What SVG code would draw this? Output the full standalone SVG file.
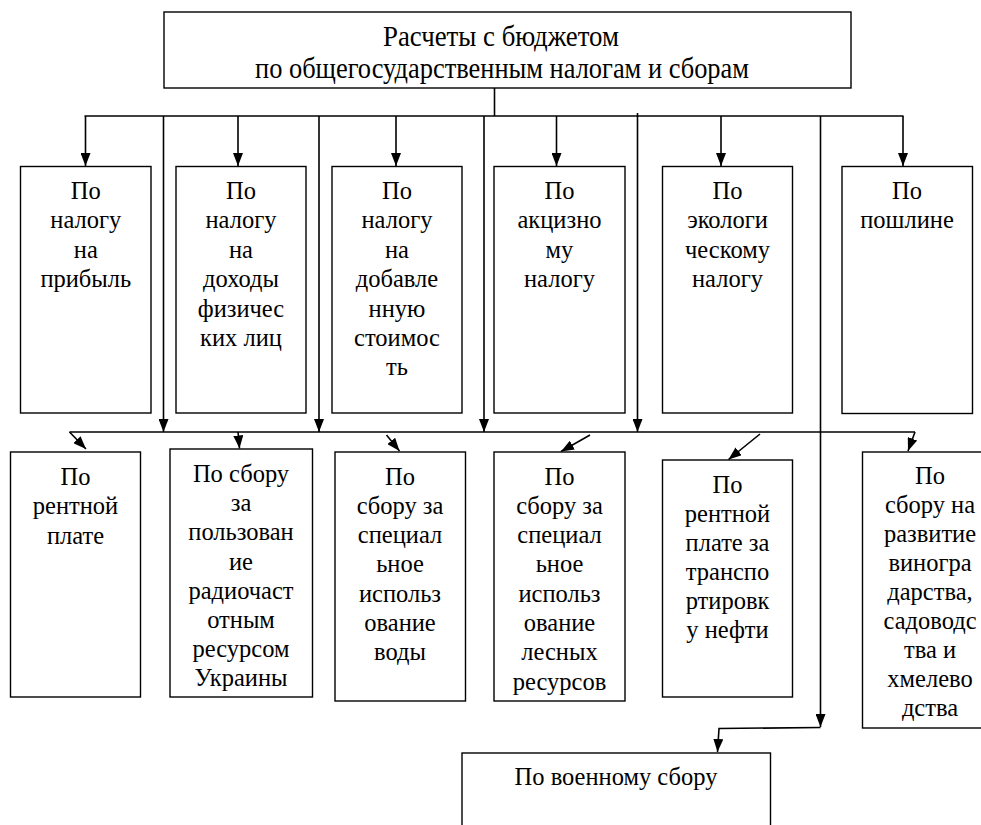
<svg xmlns="http://www.w3.org/2000/svg" width="981" height="825" viewBox="0 0 981 825">
<style>
.box{fill:#fff;stroke:#000;stroke-width:1.4}
.t{font-family:"Liberation Serif","Times New Roman","DejaVu Serif",serif;font-size:24.5px;text-anchor:middle;fill:#000}
.h{font-family:"Liberation Serif","Times New Roman","DejaVu Serif",serif;font-size:29px;text-anchor:middle;fill:#000}
.c{stroke:#000;stroke-width:1.6;fill:none}
.a{marker-end:url(#ah)}
</style>
<defs>
<marker id="ah" markerUnits="userSpaceOnUse" markerWidth="13" markerHeight="10" refX="13" refY="5" orient="auto">
<path d="M0,0 L13,5 L0,10 z" fill="#000"/>
</marker>
</defs>
<rect width="981" height="825" fill="#fff"/>
<g id="connectors">
<path class="c" d="M494.5,88 V116"/>
<path class="c" d="M84.5,116 H903.5"/>
<path class="c" d="M637.5,113 V116"/>
<path class="c a" d="M85.5,116 V166"/>
<path class="c a" d="M238,116 V166"/>
<path class="c a" d="M396,116 V166"/>
<path class="c a" d="M556.5,116 V166"/>
<path class="c a" d="M721,116 V166"/>
<path class="c a" d="M903,116 V166"/>
<path class="c a" d="M163.5,116 V432"/>
<path class="c a" d="M319,116 V432"/>
<path class="c a" d="M484,116 V432"/>
<path class="c a" d="M637.5,116 V432"/>
<path class="c a" d="M820.5,116 V727"/>
<path class="c a" d="M820.5,727.5 L719,728.5 L717.5,752"/>
<path class="c" d="M69.5,432 H915"/>
<path class="c a" d="M69.5,432 L86,449"/>
<path class="c a" d="M238,432 L239.5,448.5"/>
<path class="c a" d="M386.5,435 L399.5,451"/>
<path class="c a" d="M590,435 L561,451.5"/>
<path class="c a" d="M760,434 L728.5,459.5"/>
<path class="c a" d="M915,432 L908,451"/>
</g>
<g id="root">
<rect class="box" x="164" y="12" width="687" height="76"/>
<text class="h" x="501" y="46" textLength="236" lengthAdjust="spacingAndGlyphs">Расчеты с бюджетом</text>
<text class="h" x="502" y="78" textLength="494" lengthAdjust="spacingAndGlyphs">по общегосударственным налогам и сборам</text>
</g>
<g id="n-profit">
<rect class="box" x="20.5" y="166.5" width="130.5" height="246.5"/>
<text class="t" y="199"><tspan x="85.8">По</tspan><tspan x="85.8" dy="29.4">налогу</tspan><tspan x="85.8" dy="29.4">на</tspan><tspan x="85.8" dy="29.4">прибыль</tspan></text>
</g>
<g id="n-income">
<rect class="box" x="176" y="166.5" width="130" height="246.5"/>
<text class="t" y="199"><tspan x="241">По</tspan><tspan x="241" dy="29.4">налогу</tspan><tspan x="241" dy="29.4">на</tspan><tspan x="241" dy="29.4">доходы</tspan><tspan x="241" dy="29.4">физичес</tspan><tspan x="241" dy="29.4">ких лиц</tspan></text>
</g>
<g id="n-vat">
<rect class="box" x="332" y="166.5" width="130" height="246.5"/>
<text class="t" y="199"><tspan x="397">По</tspan><tspan x="397" dy="29.4">налогу</tspan><tspan x="397" dy="29.4">на</tspan><tspan x="397" dy="29.4">добавле</tspan><tspan x="397" dy="29.4">нную</tspan><tspan x="397" dy="29.4">стоимос</tspan><tspan x="397" dy="29.4">ть</tspan></text>
</g>
<g id="n-excise">
<rect class="box" x="494" y="166.5" width="131" height="246.5"/>
<text class="t" y="199"><tspan x="559.5">По</tspan><tspan x="559.5" dy="29.4">акцизно</tspan><tspan x="559.5" dy="29.4">му</tspan><tspan x="559.5" dy="29.4">налогу</tspan></text>
</g>
<g id="n-eco">
<rect class="box" x="662.5" y="166.5" width="130" height="246.5"/>
<text class="t" y="199"><tspan x="727.5">По</tspan><tspan x="727.5" dy="29.4">экологи</tspan><tspan x="727.5" dy="29.4">ческому</tspan><tspan x="727.5" dy="29.4">налогу</tspan></text>
</g>
<g id="n-duty">
<rect class="box" x="842" y="166.5" width="130.5" height="247"/>
<text class="t" y="199"><tspan x="907">По</tspan><tspan x="907" dy="29.4">пошлине</tspan></text>
</g>
<g id="n-rent">
<rect class="box" x="10.5" y="452" width="130" height="245"/>
<text class="t" y="485"><tspan x="75.5">По</tspan><tspan x="75.5" dy="29.3">рентной</tspan><tspan x="75.5" dy="29.3">плате</tspan></text>
</g>
<g id="n-radio">
<rect class="box" x="170" y="449" width="142.5" height="248"/>
<text class="t" y="482"><tspan x="241">По сбору</tspan><tspan x="241" dy="29.2">за</tspan><tspan x="241" dy="29.2">пользован</tspan><tspan x="241" dy="29.2">ие</tspan><tspan x="241" dy="29.2">радиочаст</tspan><tspan x="241" dy="29.2">отным</tspan><tspan x="241" dy="29.2">ресурсом</tspan><tspan x="241" dy="29.2">Украины</tspan></text>
</g>
<g id="n-water">
<rect class="box" x="335" y="452" width="130.5" height="249"/>
<text class="t" y="484.5"><tspan x="400">По</tspan><tspan x="400" dy="29.3">сбору за</tspan><tspan x="400" dy="29.3">специал</tspan><tspan x="400" dy="29.3">ьное</tspan><tspan x="400" dy="29.3">использ</tspan><tspan x="400" dy="29.3">ование</tspan><tspan x="400" dy="29.3">воды</tspan></text>
</g>
<g id="n-forest">
<rect class="box" x="494" y="452" width="131" height="249"/>
<text class="t" y="484.5"><tspan x="559.5">По</tspan><tspan x="559.5" dy="29.3">сбору за</tspan><tspan x="559.5" dy="29.3">специал</tspan><tspan x="559.5" dy="29.3">ьное</tspan><tspan x="559.5" dy="29.3">использ</tspan><tspan x="559.5" dy="29.3">ование</tspan><tspan x="559.5" dy="29.3">лесных</tspan><tspan x="559.5" dy="29.3">ресурсов</tspan></text>
</g>
<g id="n-oil">
<rect class="box" x="662.5" y="460" width="130" height="237"/>
<text class="t" y="493"><tspan x="727.5">По</tspan><tspan x="727.5" dy="29">рентной</tspan><tspan x="727.5" dy="29">плате за</tspan><tspan x="727.5" dy="29">транспо</tspan><tspan x="727.5" dy="29">ртировк</tspan><tspan x="727.5" dy="29">у нефти</tspan></text>
</g>
<g id="n-vine">
<rect class="box" x="862.5" y="452" width="136" height="276"/>
<text class="t" y="483.5"><tspan x="930">По</tspan><tspan x="930" dy="29">сбору на</tspan><tspan x="930" dy="29">развитие</tspan><tspan x="930" dy="29">виногра</tspan><tspan x="930" dy="29">дарства,</tspan><tspan x="930" dy="29">садоводс</tspan><tspan x="930" dy="29">тва и</tspan><tspan x="930" dy="29">хмелево</tspan><tspan x="930" dy="29">дства</tspan></text>
</g>
<g id="n-military">
<rect class="box" x="462" y="753" width="308.5" height="100"/>
<text class="t" x="616" y="785">По военному сбору</text>
</g>
</svg>
